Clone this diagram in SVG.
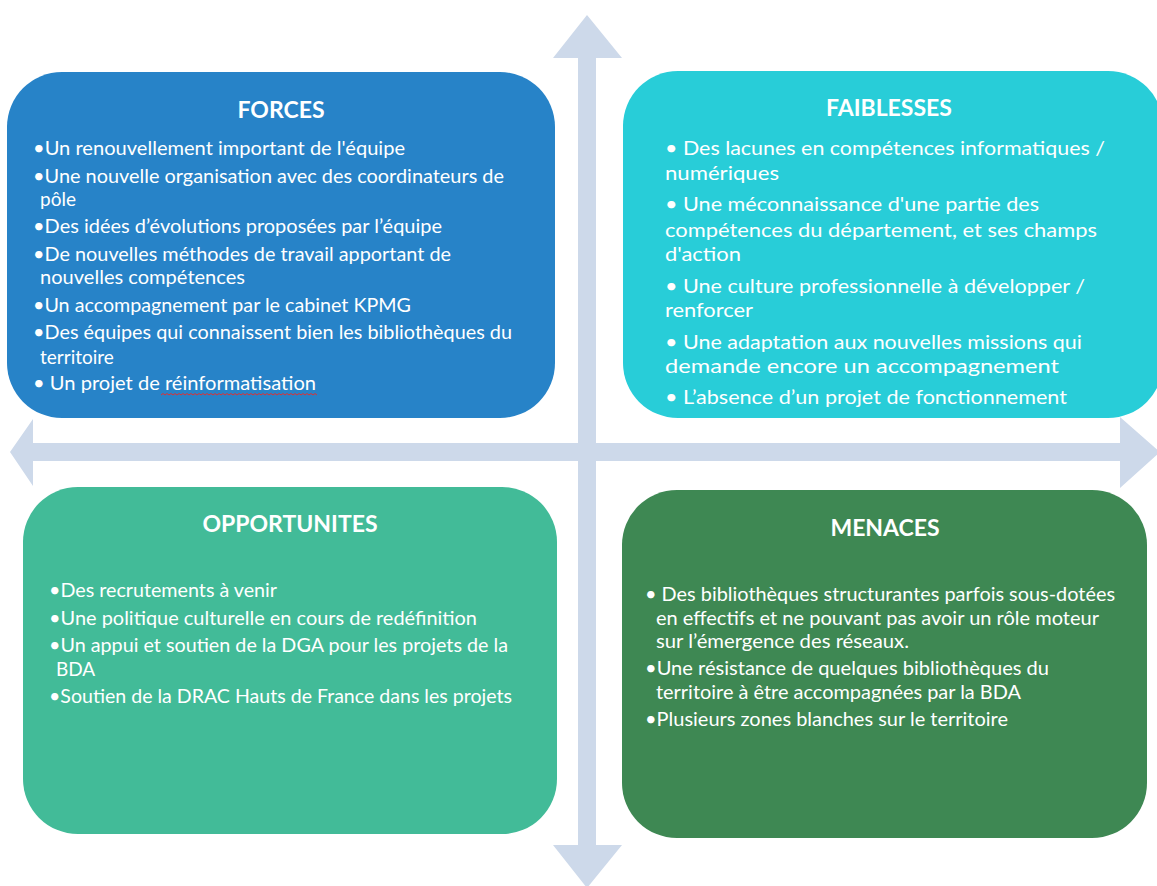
<svg xmlns="http://www.w3.org/2000/svg" width="1157" height="886" viewBox="0 0 1157 886">
<style>
.t{font-family:Lato,"Open Sans",sans-serif;font-size:19px;fill:#ffffff}
.h{font-family:Lato,"Open Sans",sans-serif;font-size:23px;font-weight:bold;fill:#ffffff;text-anchor:middle}
.ax{fill:#CDD9EA}
</style>
<rect width="1157" height="886" fill="#ffffff"/>
<g id="axes">
<polygon class="ax" points="587,15 622,58 596,58 596,845 622,845 587,888 553,845 578,845 578,58 553,58"/>
<polygon class="ax" points="10,452 33,419 33,443 1120,443 1120,417 1160,452 1120,488 1120,461 33,461 33,486"/>
</g>
<g id="forces">
<rect x="7" y="72" width="548" height="346" rx="55" fill="#2783C8"/>
<text class="h" x="281" y="118">FORCES</text>
<text class="t" x="33" y="155" textLength="372" lengthAdjust="spacingAndGlyphs">•Un renouvellement important de l'équipe</text>
<text class="t" x="33" y="183" textLength="471" lengthAdjust="spacingAndGlyphs">•Une nouvelle organisation avec des coordinateurs de</text>
<text class="t" x="40" y="206">pôle</text>
<text class="t" x="33" y="233" textLength="409" lengthAdjust="spacingAndGlyphs">•Des idées d’évolutions proposées par l’équipe</text>
<text class="t" x="33" y="261" textLength="418" lengthAdjust="spacingAndGlyphs">•De nouvelles méthodes de travail apportant de</text>
<text class="t" x="40" y="284" textLength="205" lengthAdjust="spacingAndGlyphs">nouvelles compétences</text>
<text class="t" x="33" y="312" textLength="378" lengthAdjust="spacingAndGlyphs">•Un accompagnement par le cabinet KPMG</text>
<text class="t" x="33" y="339" textLength="479" lengthAdjust="spacingAndGlyphs">•Des équipes qui connaissent bien les bibliothèques du</text>
<text class="t" x="40" y="364">territoire</text>
<text class="t" x="33" y="390" textLength="283" lengthAdjust="spacingAndGlyphs">• Un projet de réinformatisation</text>
<path d="M161,395 l2,-1.5 l2,1.5 l2,-1.5 l2,1.5 l2,-1.5 l2,1.5 l2,-1.5 l2,1.5 l2,-1.5 l2,1.5 l2,-1.5 l2,1.5 l2,-1.5 l2,1.5 l2,-1.5 l2,1.5 l2,-1.5 l2,1.5 l2,-1.5 l2,1.5 l2,-1.5 l2,1.5 l2,-1.5 l2,1.5 l2,-1.5 l2,1.5 l2,-1.5 l2,1.5 l2,-1.5 l2,1.5 l2,-1.5 l2,1.5 l2,-1.5 l2,1.5 l2,-1.5 l2,1.5 l2,-1.5 l2,1.5 l2,-1.5 l2,1.5 l2,-1.5 l2,1.5 l2,-1.5 l2,1.5 l2,-1.5 l2,1.5 l2,-1.5 l2,1.5 l2,-1.5 l2,1.5 l2,-1.5 l2,1.5 l2,-1.5 l2,1.5 l2,-1.5 l2,1.5 l2,-1.5 l2,1.5 l2,-1.5 l2,1.5 l2,-1.5 l2,1.5 l2,-1.5 l2,1.5 l2,-1.5 l2,1.5 l2,-1.5 l2,1.5 l2,-1.5 l2,1.5 l2,-1.5 l2,1.5 l2,-1.5 l2,1.5 l2,-1.5 l2,1.5 l2,-1.5 l2,1.5" fill="none" stroke="#E03030" stroke-width="1"/>
</g>
<g id="faiblesses">
<rect x="623" y="71" width="540" height="347" rx="55" fill="#28CDD8"/>
<text class="h" x="889" y="116">FAIBLESSES</text>
<text class="t" x="665" y="155" textLength="440" lengthAdjust="spacingAndGlyphs">• Des lacunes en compétences informatiques /</text>
<text class="t" x="665" y="180" textLength="114" lengthAdjust="spacingAndGlyphs">numériques</text>
<text class="t" x="665" y="211" textLength="374" lengthAdjust="spacingAndGlyphs">• Une méconnaissance d'une partie des</text>
<text class="t" x="665" y="237" textLength="432" lengthAdjust="spacingAndGlyphs">compétences du département, et ses champs</text>
<text class="t" x="665" y="261" textLength="76" lengthAdjust="spacingAndGlyphs">d'action</text>
<text class="t" x="665" y="293" textLength="420" lengthAdjust="spacingAndGlyphs">• Une culture professionnelle à développer /</text>
<text class="t" x="665" y="317" textLength="88" lengthAdjust="spacingAndGlyphs">renforcer</text>
<text class="t" x="665" y="349" textLength="417" lengthAdjust="spacingAndGlyphs">• Une adaptation aux nouvelles missions qui</text>
<text class="t" x="665" y="373" textLength="394" lengthAdjust="spacingAndGlyphs">demande encore un accompagnement</text>
<text class="t" x="665" y="404" textLength="402" lengthAdjust="spacingAndGlyphs">• L’absence d’un projet de fonctionnement</text>
</g>
<g id="opportunites">
<rect x="23" y="487" width="534" height="347" rx="55" fill="#42BB98"/>
<text class="h" x="290" y="532">OPPORTUNITES</text>
<text class="t" x="49" y="597" textLength="228" lengthAdjust="spacingAndGlyphs">•Des recrutements à venir</text>
<text class="t" x="49" y="625" textLength="428" lengthAdjust="spacingAndGlyphs">•Une politique culturelle en cours de redéfinition</text>
<text class="t" x="49" y="652" textLength="459" lengthAdjust="spacingAndGlyphs">•Un appui et soutien de la DGA pour les projets de la</text>
<text class="t" x="56" y="676">BDA</text>
<text class="t" x="49" y="703" textLength="463" lengthAdjust="spacingAndGlyphs">•Soutien de la DRAC Hauts de France dans les projets</text>
</g>
<g id="menaces">
<rect x="622" y="490" width="525" height="348" rx="55" fill="#3E8853"/>
<text class="h" x="885" y="536">MENACES</text>
<text class="t" x="645" y="601" textLength="470" lengthAdjust="spacingAndGlyphs">• Des bibliothèques structurantes parfois sous-dotées</text>
<text class="t" x="656" y="625" textLength="443" lengthAdjust="spacingAndGlyphs">en effectifs et ne pouvant pas avoir un rôle moteur</text>
<text class="t" x="656" y="648" textLength="253" lengthAdjust="spacingAndGlyphs">sur l’émergence des réseaux.</text>
<text class="t" x="645" y="675" textLength="404" lengthAdjust="spacingAndGlyphs">•Une résistance de quelques bibliothèques du</text>
<text class="t" x="656" y="699" textLength="365" lengthAdjust="spacingAndGlyphs">territoire à être accompagnées par la BDA</text>
<text class="t" x="645" y="726" textLength="363" lengthAdjust="spacingAndGlyphs">•Plusieurs zones blanches sur le territoire</text>
</g>
</svg>
